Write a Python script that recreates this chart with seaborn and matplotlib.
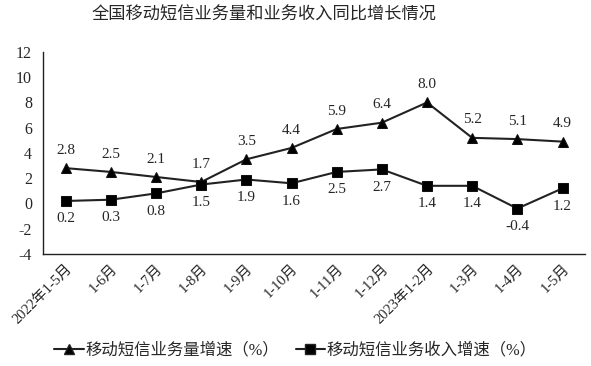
import seaborn as sns
import numpy as np
import pandas as pd
import matplotlib.pyplot as plt

months = ["2022年1-5月", "1-6月", "1-7月", "1-8月", "1-9月", "1-10月",
          "1-11月", "1-12月", "2023年1-2月", "1-3月", "1-4月", "1-5月"]
volume_growth = [2.8, 2.5, 2.1, 1.7, 3.5, 4.4, 5.9, 6.4, 8.0, 5.2, 5.1, 4.9]
revenue_growth = [0.2, 0.3, 0.8, 1.5, 1.9, 1.6, 2.5, 2.7, 1.4, 1.4, -0.4, 1.2]
vol_name = "移动短信业务量增速（%）"
rev_name = "移动短信业务收入增速（%）"

sns.set_style("white")
plt.rcParams["font.family"] = ["Liberation Serif", "Noto Sans CJK SC"]
plt.rcParams["axes.unicode_minus"] = False

df = pd.DataFrame({
    "idx": list(range(len(months))) * 2,
    "value": volume_growth + revenue_growth,
    "series": [vol_name] * len(months) + [rev_name] * len(months),
})

fig = plt.figure(figsize=(5.91, 3.66), dpi=100)
ax = fig.add_axes([0.073, 0.306, 0.917, 0.552])

sns.lineplot(data=df, x="idx", y="value", hue="series", style="series",
             markers={vol_name: "^", rev_name: "s"}, dashes=False,
             palette={vol_name: "#222222", rev_name: "#222222"},
             markersize=7, linewidth=1.5, markeredgecolor="#111111",
             ax=ax, legend=False)
for line in ax.lines:
    line.set_markerfacecolor("black")

# value labels
for i, v in enumerate(volume_growth):
    ax.text(i, v + 0.9, f"{v:.1f}", ha="center", va="bottom", fontsize=11)
for i, v in enumerate(revenue_growth):
    ax.text(i, v - 0.9, f"{v:.1f}", ha="center", va="top", fontsize=11)

ax.set_xlim(-0.5, len(months) - 0.5)
ax.set_ylim(-4, 12)
ax.set_yticks(np.arange(-4, 13, 2))
ax.set_xticks(range(len(months)))
ax.set_xticklabels(months, rotation=45, ha="right", rotation_mode="anchor",
                   fontsize=10.5)
ax.tick_params(axis="y", direction="in", length=4, width=1, labelsize=11.5, pad=8)
ax.tick_params(axis="x", length=0, pad=6)
ax.set_xlabel("")
ax.set_ylabel("")
for side in ["top", "right"]:
    ax.spines[side].set_visible(False)
for side in ["left", "bottom"]:
    ax.spines[side].set_color("#222222")
    ax.spines[side].set_linewidth(1)

fig.suptitle("全国移动短信业务量和业务收入同比增长情况", x=0.447, y=0.98,
             fontsize=12.4)

handles = [
    plt.Line2D([], [], color="#222222", marker="^", markersize=7,
               markerfacecolor="black", linewidth=1.5),
    plt.Line2D([], [], color="#222222", marker="s", markersize=7,
               markerfacecolor="black", linewidth=1.5),
]
fig.legend(handles, [vol_name, rev_name], loc="lower center",
           bbox_to_anchor=(0.5, -0.02), ncol=2, frameon=False, fontsize=11.8,
           handlelength=1.8, handletextpad=0.1, columnspacing=1.0)

fig.savefig("out.png", dpi=100)
